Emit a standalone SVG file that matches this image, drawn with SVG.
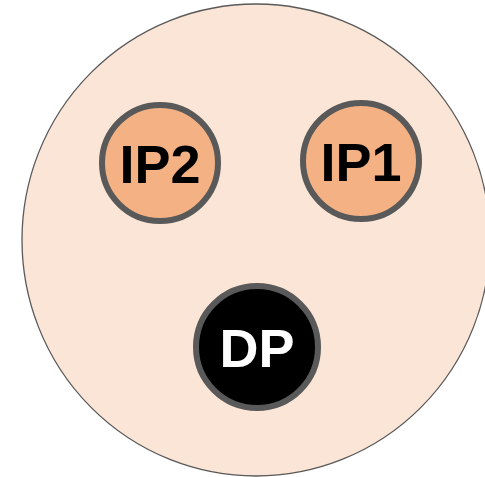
<svg xmlns="http://www.w3.org/2000/svg" width="485" height="477" viewBox="0 0 485 477">
  <style>
    .node { stroke: #595959; stroke-width: 6; }
    .ip { fill: #F4B183; }
    .dp { fill: #000000; }
    .label { font-family: "Liberation Sans", Arial, sans-serif; font-weight: bold; font-size: 54px; text-anchor: middle; }
  </style>
  <rect width="485" height="477" fill="#ffffff"/>
  <g id="container">
    <ellipse cx="256" cy="240" rx="234" ry="236" fill="#FBE5D6" stroke="#595959" stroke-width="1.3"/>
  </g>
  <g id="connectors"></g>
  <g id="IP2">
    <circle class="node ip" cx="160" cy="163" r="58"/>
    <text class="label" x="160" y="183" fill="#000000">IP2</text>
  </g>
  <g id="IP1">
    <circle class="node ip" cx="361" cy="161" r="58"/>
    <text class="label" x="361" y="181" fill="#000000">IP1</text>
  </g>
  <g id="DP">
    <circle class="node dp" cx="257" cy="347" r="61"/>
    <text class="label" x="257" y="367" fill="#ffffff">DP</text>
  </g>
</svg>
